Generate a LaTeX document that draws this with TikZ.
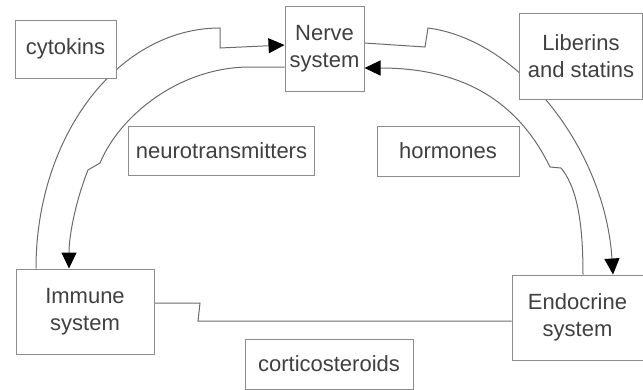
\documentclass[tikz,border=0pt]{standalone}
\usepackage{fontspec}
\setmainfont{Liberation Sans}
\usetikzlibrary{arrows.meta,backgrounds}
\definecolor{boxgray}{gray}{0.55}
\definecolor{linegray}{gray}{0.42}
\definecolor{txt}{gray}{0.25}
\begin{document}
\begin{tikzpicture}[x=1pt,y=-1pt,
  box/.style={draw=boxgray, line width=1pt, fill=white, text=txt, align=center,
    inner sep=0pt, font=\fontsize{22}{27.5}\selectfont},
  conn/.style={draw=linegray, line width=1pt},
  tip/.style={-{Triangle[length=16pt,width=15pt,color=black,fill=black]}}]
\useasboundingbox (0,0) rectangle (643,389);
\node[box, minimum width=101pt, minimum height=58pt] (cyto) at (65.5,49) {cytokins};
\node[box, minimum width=79pt, minimum height=85pt] (nerve) at (324.5,48.5) {Nerve\\system};
\node[box, minimum width=123pt, minimum height=86pt] (lib) at (581,56) {Liberins\\and statins};
\node[box, minimum width=186pt, minimum height=49pt] (neuro) at (221.5,150.5) {neurotransmitters};
\node[box, minimum width=142pt, minimum height=50pt] (horm) at (448,151) {hormones};
\node[box, minimum width=138pt, minimum height=85pt] (imm) at (85,311.5) {Immune\\system};
\node[box, minimum width=131pt, minimum height=85pt] (endo) at (577.5,317.5) {Endocrine\\system};
\node[box, minimum width=168pt, minimum height=50pt] (cort) at (329,364) {corticosteroids};
\begin{pgfonlayer}{background}
% immune -> nerve (outer left)
\draw[conn,tip] (imm.north -| 36,0) .. controls (36,136) and (118,28) .. (220,28)
  -- (220,48) -- (nerve.west |- 0,45);
% nerve -> immune (inner left)
\draw[conn,tip] (nerve.west |- 0,67) -- (250,67) .. controls (180,67) and (120,115) .. (100,163)
  -- (88,170) .. controls (76,200) and (69,235) .. (imm.north -| 69,0);
% nerve -> endocrine (outer right, behind liberins)
\draw[conn,tip] (nerve.east |- 0,43) -- (425,47) -- (428,28)
  .. controls (520,40) and (605,150) .. (endo.north -| 613,0);
% endocrine -> nerve (inner right)
\draw[conn,tip] (endo.north -| 583,0) .. controls (583,215) and (575,185) .. (561,168)
  -- (550,167) .. controls (515,95) and (455,68) .. (nerve.east |- 0,68);
% immune -- endocrine
\draw[conn] (imm.east |- 0,303) -- (200,303) -- (198,321) -- (endo.west |- 0,321);
\end{pgfonlayer}
\end{tikzpicture}
\end{document}
